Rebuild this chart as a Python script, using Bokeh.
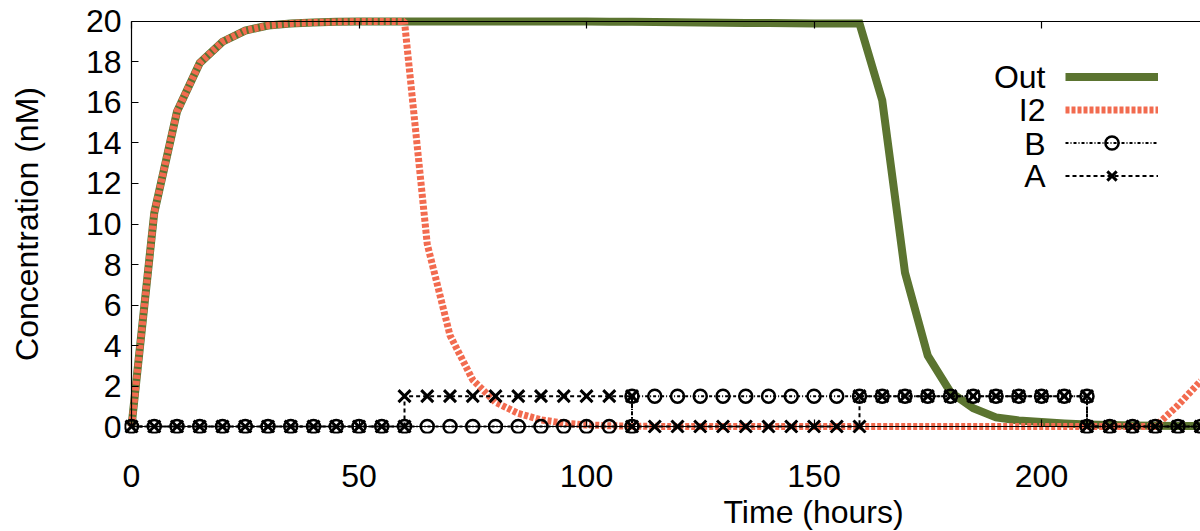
from bokeh.plotting import figure
from bokeh.models import (Range1d, LinearAxis, FixedTicker, Label, Legend, LegendItem, Title)
from bokeh.embed import file_html
from bokeh.resources import INLINE

# ---------------- data ----------------
time_out = [0, 5, 10, 15, 20, 25, 30, 35, 40, 45, 50, 55, 60, 65, 70, 75, 80, 85, 90, 95,
            100, 105, 110, 115, 120, 125, 130, 135, 140, 145, 150, 155, 160, 165, 170, 175,
            180, 185, 190, 195, 200, 205, 210, 215, 220, 225, 230, 235]
out_vals = [0.0, 10.55, 15.55, 17.95, 19.0, 19.55, 19.8, 19.9, 19.95, 19.98, 20.0, 20.0, 20.0,
            20.0, 20.0, 20.0, 20.0, 20.0, 20.0, 20.0, 20.0, 19.99, 19.98, 19.97, 19.96, 19.95,
            19.94, 19.93, 19.92, 19.91, 19.9, 19.9, 19.9, 16.1, 7.6, 3.5, 1.7, 0.9, 0.45, 0.3,
            0.22, 0.15, 0.1, 0.07, 0.05, 0.04, 0.03, 0.02]
i2_vals = [0.0, 10.55, 15.55, 17.95, 19.0, 19.55, 19.8, 19.9, 19.95, 19.98, 20.0, 20.0, 20.0,
           9.0, 4.5, 2.3, 1.2, 0.65, 0.33, 0.17, 0.08, 0.04, 0.02, 0.01, 0.0, 0.0,
           0.0, 0.0, 0.0, 0.0, 0.0, 0.0, 0.0, 0.0, 0.0, 0.0, 0.0, 0.0, 0.0, 0.0,
           0.0, 0.0, 0.0, 0.0, 0.0, 0.0, 1.05, 2.25]

time_b = [0, 5, 10, 15, 20, 25, 30, 35, 40, 45, 50, 55, 60, 65, 70, 75, 80, 85, 90, 95, 100, 105, 110,
          110, 115, 120, 125, 130, 135, 140, 145, 150, 155, 160, 165, 170, 175, 180, 185, 190, 195, 200, 205, 210,
          210, 215, 220, 225, 230, 235]
b_vals = [0, 0, 0, 0, 0, 0, 0, 0, 0, 0, 0, 0, 0, 0, 0, 0, 0, 0, 0, 0, 0, 0, 0,
          1.5, 1.5, 1.5, 1.5, 1.5, 1.5, 1.5, 1.5, 1.5, 1.5, 1.5, 1.5, 1.5, 1.5, 1.5, 1.5, 1.5, 1.5, 1.5, 1.5, 1.5,
          0, 0, 0, 0, 0, 0]

time_a = [0, 5, 10, 15, 20, 25, 30, 35, 40, 45, 50, 55, 60,
          60, 65, 70, 75, 80, 85, 90, 95, 100, 105, 110,
          110, 115, 120, 125, 130, 135, 140, 145, 150, 155, 160,
          160, 165, 170, 175, 180, 185, 190, 195, 200, 205, 210,
          210, 215, 220, 225, 230, 235]
a_vals = [0, 0, 0, 0, 0, 0, 0, 0, 0, 0, 0, 0, 0,
          1.5, 1.5, 1.5, 1.5, 1.5, 1.5, 1.5, 1.5, 1.5, 1.5, 1.5,
          0, 0, 0, 0, 0, 0, 0, 0, 0, 0, 0,
          1.5, 1.5, 1.5, 1.5, 1.5, 1.5, 1.5, 1.5, 1.5, 1.5, 1.5,
          0, 0, 0, 0, 0, 0]

x_ticks = [0, 50, 100, 150, 200, 250, 300]
y_ticks = [0, 2, 4, 6, 8, 10, 12, 14, 16, 18, 20]
series_names = ["Out", "I2", "B", "A"]
x_label = "Time (hours)"
y_label = "Concentration (nM)"

# ---------------- style ----------------
FONT = "Liberation Sans"
FS = "32px"
GREEN = "#5b7430"
ORANGE = "#f26b4f"

W, H = 1200, 531
ML, MR, MT, MB = 124, 0, 14, 96
PAD = 7.0
frame_w = W - ML - MR
frame_h = H - MT - MB
px_per_h = 4.55
px_per_u = 20.35
x0 = -PAD / px_per_h
x1 = x0 + frame_w / px_per_h
y0 = -PAD / px_per_u
y1 = y0 + frame_h / px_per_u

p = figure(width=W, height=H, x_range=Range1d(x0, x1), y_range=Range1d(y0, y1),
           output_backend="svg", toolbar_location=None,
           x_axis_location=None, y_axis_location=None)
p.min_border_left = ML
p.min_border_right = MR
p.min_border_top = MT
p.min_border_bottom = MB
p.outline_line_color = None
p.background_fill_color = "white"
p.border_fill_color = "white"
p.xgrid.visible = False
p.ygrid.visible = False


def label_axis(ticks, standoff):
    ax = LinearAxis(ticker=FixedTicker(ticks=ticks))
    ax.axis_line_color = None
    ax.major_tick_line_color = None
    ax.major_tick_in = 0
    ax.major_tick_out = 0
    ax.minor_tick_in = 0
    ax.minor_tick_out = 0
    ax.major_label_standoff = standoff
    ax.major_label_text_font = FONT
    ax.major_label_text_font_size = FS
    ax.major_label_text_color = "black"
    return ax


def line_axis(loc, ticks, bounds):
    ax = LinearAxis(fixed_location=loc, ticker=FixedTicker(ticks=ticks), bounds=bounds)
    ax.axis_line_color = "black"
    ax.axis_line_width = 1.2
    ax.major_tick_line_color = "black"
    ax.major_tick_line_width = 1.2
    ax.major_tick_in = 7
    ax.major_tick_out = 0
    ax.minor_tick_in = 0
    ax.minor_tick_out = 0
    ax.major_label_standoff = 0
    ax.major_label_text_font_size = "1px"
    ax.major_label_text_color = None
    return ax


# tick-label axes at the frame edges (closest to frame)
ylab = label_axis(y_ticks, 3)
ylab.axis_label = y_label
ylab.axis_label_standoff = 38
ylab.axis_label_text_font = FONT
ylab.axis_label_text_font_size = FS
ylab.axis_label_text_font_style = "normal"
ylab.axis_label_text_color = "black"
p.add_layout(ylab, "left")

xlab = label_axis(x_ticks, 31)
p.add_layout(xlab, "below")

p.add_layout(Title(text=x_label, align="left", offset=599, standoff=4,
                   text_font=FONT, text_font_size=FS, text_font_style="normal",
                   text_color="black"), "below")

# axis lines with inward ticks at data zero / top
p.add_layout(line_axis(0, y_ticks, (0, 20)), "left")
p.add_layout(line_axis(0, x_ticks, (0, 300)), "below")
p.add_layout(line_axis(20, x_ticks, (0, 300)), "above")

# ---------------- series ----------------
r_out = p.line(time_out, out_vals, line_color=GREEN, line_width=8, line_join="miter")
r_i2 = p.line(time_out, i2_vals, line_color=ORANGE, line_width=7, line_dash="4 2")
r_b_line = p.line(time_b, b_vals, line_color="black", line_width=2, line_dash="3 2 1 2")
r_b_pts = p.scatter(time_b, b_vals, marker="circle", size=13, line_color="black",
                    line_width=2.5, fill_color=None)
r_a_line = p.line(time_a, a_vals, line_color="black", line_width=2, line_dash="4 3")
r_a_pts = p.scatter(time_a, a_vals, marker="x", size=17, line_color="black", line_width=3)

# ---------------- legend (samples; names drawn as text to their left) ----------------
legend = Legend(items=[
    LegendItem(label=series_names[0], renderers=[r_out]),
    LegendItem(label=series_names[1], renderers=[r_i2]),
    LegendItem(label=series_names[2], renderers=[r_b_line, r_b_pts]),
    LegendItem(label=series_names[3], renderers=[r_a_line, r_a_pts]),
], location=(941, 241), glyph_width=93, glyph_height=33, spacing=0, padding=0, margin=0,
    label_width=0, label_height=0, label_standoff=0, label_text_font_size="1px",
    label_text_color=None, border_line_color=None, background_fill_alpha=0)
p.add_layout(legend, "center")

legend_y = [357, 324, 290, 258]
for name, ly in zip(series_names, legend_y):
    p.add_layout(Label(x=921, y=ly, x_units="screen", y_units="screen", text=name,
                       text_align="right", text_baseline="middle",
                       text_font=FONT, text_font_size=FS, text_color="black"))

open("out.html", "w").write(file_html(p, INLINE))
